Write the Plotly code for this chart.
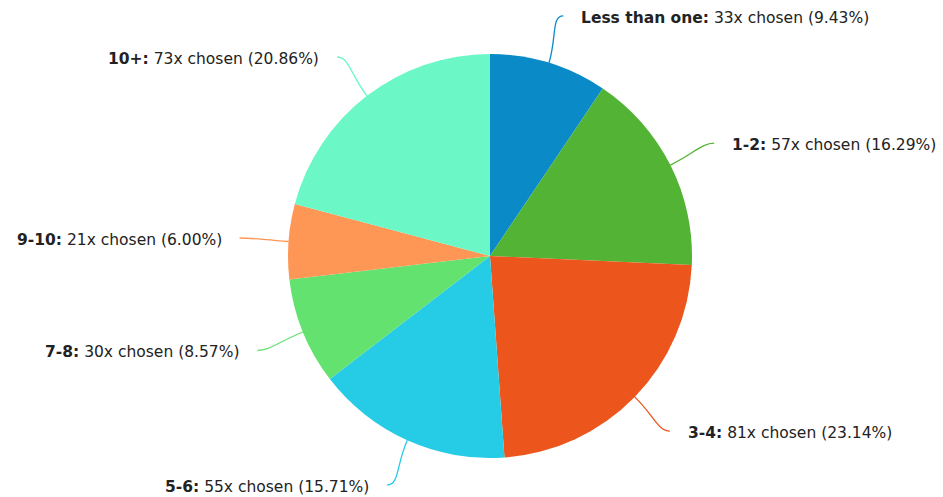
import math
import plotly.graph_objects as go

# ---- data ----
categories = ["Less than one", "1-2", "3-4", "5-6", "7-8", "9-10", "10+"]
counts = [33, 57, 81, 55, 30, 21, 73]
colors = ["#0A8BC7", "#52B334", "#EC561D", "#26CCE5", "#63E270", "#FE9655", "#6BF8C6"]

# ---- layout constants (pixels) ----
W, H = 943, 497
CX, CY, R = 490, 256, 202     # pie centre / radius
RL = 251                      # label circle radius
LABEL_GAP = 16

total = sum(counts)

fig = go.Figure()
fig.add_trace(go.Pie(
    labels=categories, values=counts, sort=False, direction="clockwise", rotation=0,
    marker=dict(colors=colors, line=dict(width=0)),
    textinfo="none", hoverinfo="label+value+percent", showlegend=False,
    domain=dict(x=[(CX - R) / W, (CX + R) / W], y=[(H - CY - R) / H, (H - CY + R) / H]),
))

shapes, annotations = [], []
cum = 0
for name, v, col in zip(categories, counts, colors):
    frac = v / total
    a = 2 * math.pi * (cum + frac / 2)
    cum += frac
    sx, sy = math.sin(a), -math.cos(a)
    ex, ey = CX + R * sx, CY + R * sy
    py = CY + RL * sy
    dy = py - CY
    right = sx >= 0
    px = CX + (1 if right else -1) * math.sqrt(max(RL ** 2 - dy ** 2, 0))
    c1x, c1y = ex + sx * (RL - R) * 0.55, ey + sy * (RL - R) * 0.55
    c2x, c2y = px + (-12 if right else 12), py
    shapes.append(dict(
        type="path", xref="x", yref="y",
        path=f"M {ex:.1f},{ey:.1f} C {c1x:.1f},{c1y:.1f} {c2x:.1f},{c2y:.1f} {px:.1f},{py:.1f}",
        line=dict(color=col, width=1.3), layer="above",
    ))
    pct = 100 * frac
    annotations.append(dict(
        x=px + (LABEL_GAP if right else -LABEL_GAP), y=py + 2, xref="x", yref="y",
        text=f"<b>{name}:</b> {v}x chosen ({pct:.2f}%)",
        showarrow=False, xanchor="left" if right else "right", yanchor="middle",
        font=dict(family="DejaVu Sans", size=15.5, color="#222222"),
    ))

fig.update_layout(
    width=W, height=H, margin=dict(l=0, r=0, t=0, b=0),
    paper_bgcolor="white", plot_bgcolor="rgba(0,0,0,0)",
    xaxis=dict(range=[0, W], visible=False, fixedrange=True),
    yaxis=dict(range=[H, 0], visible=False, fixedrange=True),
    shapes=shapes, annotations=annotations,
)
fig.write_html("out.html")
